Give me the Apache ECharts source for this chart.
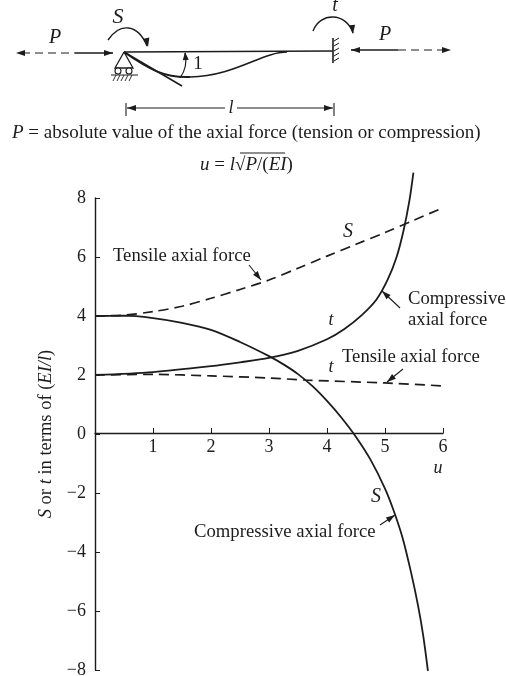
<!DOCTYPE html>
<html><head><meta charset="utf-8">
<style>html,body{margin:0;padding:0;background:#fff}#c{width:506px;height:676px}</style>
<script src="https://cdn.jsdelivr.net/npm/echarts@6/dist/echarts.min.js"></script>
</head><body><div id="c"></div>
<script>
const xTicks = [0,1,2,3,4,5,6];
const yTicks = [-8,-6,-4,-2,0,2,4,6,8];
const sTensile = [[0,4],[0.5,4.03],[1,4.15],[1.5,4.33],[2,4.6],[2.5,4.9],[3,5.22],[3.5,5.62],[4,6.03],[4.5,6.43],[5,6.83],[5.5,7.25],[6,7.67]];
const tTensile = [[0,2],[1,2.02],[2,1.97],[3,1.9],[3.6,1.83],[5,1.73],[6,1.63]];
const sCompressive = [[0,4],[0.5,4.01],[1,3.93],[1.5,3.77],[2,3.53],[2.5,3.12],[3,2.64],[3.25,2.36],[3.5,2.03],[3.75,1.62],[4,1.12],[4.25,0.55],[4.5,-0.1],[4.75,-0.87],[5,-1.85],[5.15,-2.6],[5.3,-3.5],[5.45,-4.7],[5.57,-5.82],[5.66,-6.85],[5.74,-8.03]];
const tCompressive = [[0,2],[1,2.1],[2,2.3],[2.5,2.43],[3,2.58],[3.5,2.82],[4,3.21],[4.3,3.56],[4.6,4.03],[4.85,4.55],[5.05,5.25],[5.2,6.0],[5.32,6.9],[5.42,7.9],[5.49,8.86]];

const INK = '#1c1c1c', SERIF = '"Liberation Serif", serif';
const gfx = [];
const line = (pts, w=1.3, dash) => gfx.push({type:'polyline',shape:{points:pts},style:{stroke:INK,lineWidth:w,fill:null,lineDash:dash||null}});
const head = (x1,y1,x2,y2,len=9,wid=3) => {
  const a=Math.atan2(y2-y1,x2-x1),c=Math.cos(a),s=Math.sin(a);
  gfx.push({type:'polygon',shape:{points:[[x2,y2],[x2-len*c-wid*s,y2-len*s+wid*c],[x2-len*c+wid*s,y2-len*s-wid*c]]},style:{fill:INK}});
};
const arrow = (x1,y1,x2,y2,w=1.2) => {line([[x1,y1],[x2,y2]],w);head(x1,y1,x2,y2);};
const curve = (p0,c1,c2,p1,w=1.4) => gfx.push({type:'bezierCurve',shape:{x1:p0[0],y1:p0[1],cpx1:c1[0],cpy1:c1[1],cpx2:c2[0],cpy2:c2[1],x2:p1[0],y2:p1[1]},style:{stroke:INK,lineWidth:w,fill:null}});
const txt = (x,y,text,size=18.7,italic=false,align='left') => gfx.push({type:'text',x,y,style:{text,fill:INK,font:(italic?'italic ':'')+size+'px '+SERIF,align,verticalAlign:'middle',
  rich:{i:{fontStyle:'italic',fontFamily:SERIF,fontSize:size,fill:INK},n:{fontFamily:SERIF,fontSize:size,fill:INK}}}});

// structural sketch
line([[124,52],[333,51]],1.4);
curve([124,52],[150,70],[165,78],[190,77],2);
curve([190,77],[235,76],[262,52],[287,52],1.6);
line([[124,52],[182,86]],1.6);
line([[333,38],[333,63]],1.6);
for(const y of [41,46,51,56,61]) line([[334,y],[339,y-3]],1);
line([[124,52],[115,68],[133,68],[124,52]],1.3);
gfx.push({type:'circle',shape:{cx:118,cy:71,r:3},style:{stroke:INK,fill:'#fff',lineWidth:1.1}});
gfx.push({type:'circle',shape:{cx:129,cy:71,r:3},style:{stroke:INK,fill:'#fff',lineWidth:1.1}});
line([[111,75],[138,75]],1);
for(const x of [116,120,124,128,132]) line([[x,75],[x-3,81]],0.9);
// moments
curve([108,40],[120,22],[138,24],[147,46]);head(146,36,148,47);
curve([313,31],[320,12],[346,12],[353,33]);head(352,24,353,34);
curve([180,78],[186,70],[187,62],[185,53],1.2);head(186,62,185,52,8,3);
// axial arrows
line([[22,53],[75,53]],1.2,[8,5]);head(30,53,16,53);
arrow(75,53,113,53,1.4);
arrow(398,50,351,50,1.4);
line([[398,50],[443,50]],1.2,[8,5]);head(440,50,451,50);
// length dimension
line([[126,103],[126,116]],1.1);line([[334,103],[334,116]],1.1);
arrow(225,108,127,108,1);arrow(237,108,333,108,1);
txt(231,108,'l',18,true,'center');
txt(55,38,'P',20,true,'center');txt(385,35,'P',20,true,'center');
txt(118,17,'S',22,true,'center');txt(335,6,'t',20,true,'center');txt(198,64,'1',19,false,'center');
txt(12,133,'{i|P} = absolute value of the axial force (tension or compression)',19);
txt(200,165,'{i|u} = {i|l}√{i|P}/({i|EI})',19);
line([[240,153],[285,153]],1);

// chart annotations
txt(113,256,'Tensile axial force');arrow(249,265,261,280,1.1);
txt(348,232,'S',20,true,'center');
txt(408,299,'Compressive');txt(408,320,'axial force');arrow(400,308,382,291,1.1);
txt(331,320,'t',18,true,'center');txt(331,367,'t',18,true,'center');
txt(342,357,'Tensile axial force');arrow(403,369,387,382,1.1);
txt(376,497,'S',20,true,'center');
txt(194,532,'Compressive axial force');arrow(380,525,395,515,1.1);
txt(438,468,'u',18,true,'center');

const chart = echarts.init(document.getElementById('c'),null,{renderer:'canvas'});
const ser = (name,data,dash,w) => ({name,type:'line',data,smooth:0.3,showSymbol:false,clip:false,lineStyle:{color:INK,width:w,type:dash?[10,6]:'solid'}});
chart.setOption({
  animation:false,backgroundColor:'#fff',
  grid:{left:95,right:63,top:198,bottom:6,outerBoundsMode:'none'},
  xAxis:{type:'value',min:xTicks[0],max:xTicks[xTicks.length-1],interval:1,splitLine:{show:false},offset:-237,
    axisLine:{onZero:false,lineStyle:{color:INK,width:1.3}},axisTick:{inside:true,length:5,lineStyle:{color:INK}},
    axisLabel:{color:INK,fontFamily:SERIF,fontSize:18,margin:5,formatter:v=>v===0?'':String(v)}},
  yAxis:{type:'value',min:yTicks[0],max:yTicks[yTicks.length-1],interval:2,splitLine:{show:false},
    axisLine:{onZero:false,lineStyle:{color:INK,width:1.4}},axisTick:{inside:true,length:5,lineStyle:{color:INK}},
    axisLabel:{color:INK,fontFamily:SERIF,fontSize:18,margin:9,formatter:v=>String(v).replace('-','\u2212')},
    name:'{i|S} or {i|t} in terms of ({i|EI/l})',nameLocation:'middle',nameGap:29,nameRotate:90,
    nameTextStyle:{color:INK,fontFamily:SERIF,fontSize:18.5,rich:{i:{fontStyle:'italic',fontFamily:SERIF,fontSize:18.5,color:INK}}}},
  series:[ser('S tensile',sTensile,true,1.7),ser('t tensile',tTensile,true,1.7),ser('S compressive',sCompressive,false,1.8),ser('t compressive',tCompressive,false,1.8)],
  graphic:{elements:gfx}
});
</script></body></html>
